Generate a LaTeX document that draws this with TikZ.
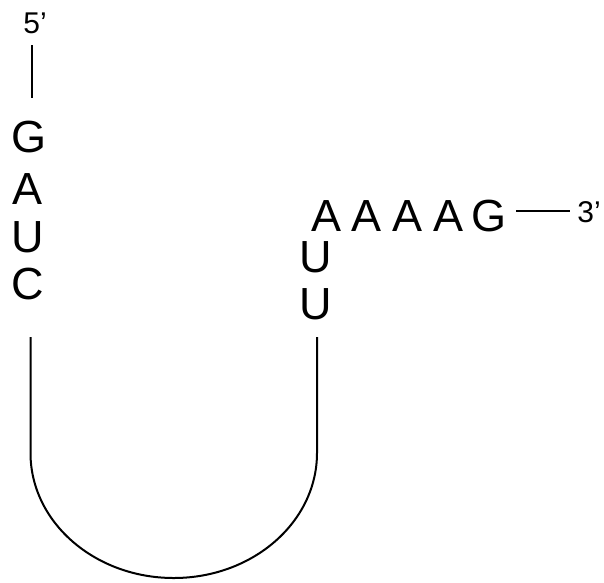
\documentclass[tikz,border=0pt]{standalone}
\usepackage{fontspec}
\setmainfont{Liberation Sans}
\begin{document}
\begin{tikzpicture}[x=1pt,y=-1pt,
  base/.style={inner sep=0pt,font=\fontsize{45}{45}\selectfont},
  endlabel/.style={inner sep=0pt,font=\fontsize{30}{30}\selectfont},
  strand/.style={line width=2pt}]
\useasboundingbox (0,0) rectangle (604,582);
% 5' arm
\node[endlabel] (p5) at (35,23) {5’};
\node[base] (g1) at (29,137) {G};
\node[base] (a1) at (28,189) {A};
\node[base] (u1) at (28,237) {U};
\node[base] (c1) at (28,284) {C};
% 3' arm
\node[base] (u3) at (316,304) {U};
\node[base] (u2) at (316,257) {U};
\node[base] (a2) at (327,216) {A};
\node[base] (a3) at (367,216) {A};
\node[base] (a4) at (408,216) {A};
\node[base] (a5) at (448,216) {A};
\node[base] (g2) at (489,216) {G};
\node[endlabel] (p3) at (589,212) {3’};
% backbone links
\coordinate (t5a) at (32,45);
\coordinate (t5b) at (32,98);
\draw[strand] (t5a) -- (t5b);
\coordinate (t3a) at (516,211);
\coordinate (t3b) at (570,211);
\draw[strand] (t3a) -- (t3b);
% loop joining C and U
\coordinate (la) at (30.5,337);
\coordinate (lb) at (317,337);
\draw[strand] (la) -- ++(0,116)
  arc[start angle=180,end angle=360,x radius=143.25pt,y radius=125pt]
  -- (lb);
\end{tikzpicture}
\end{document}
